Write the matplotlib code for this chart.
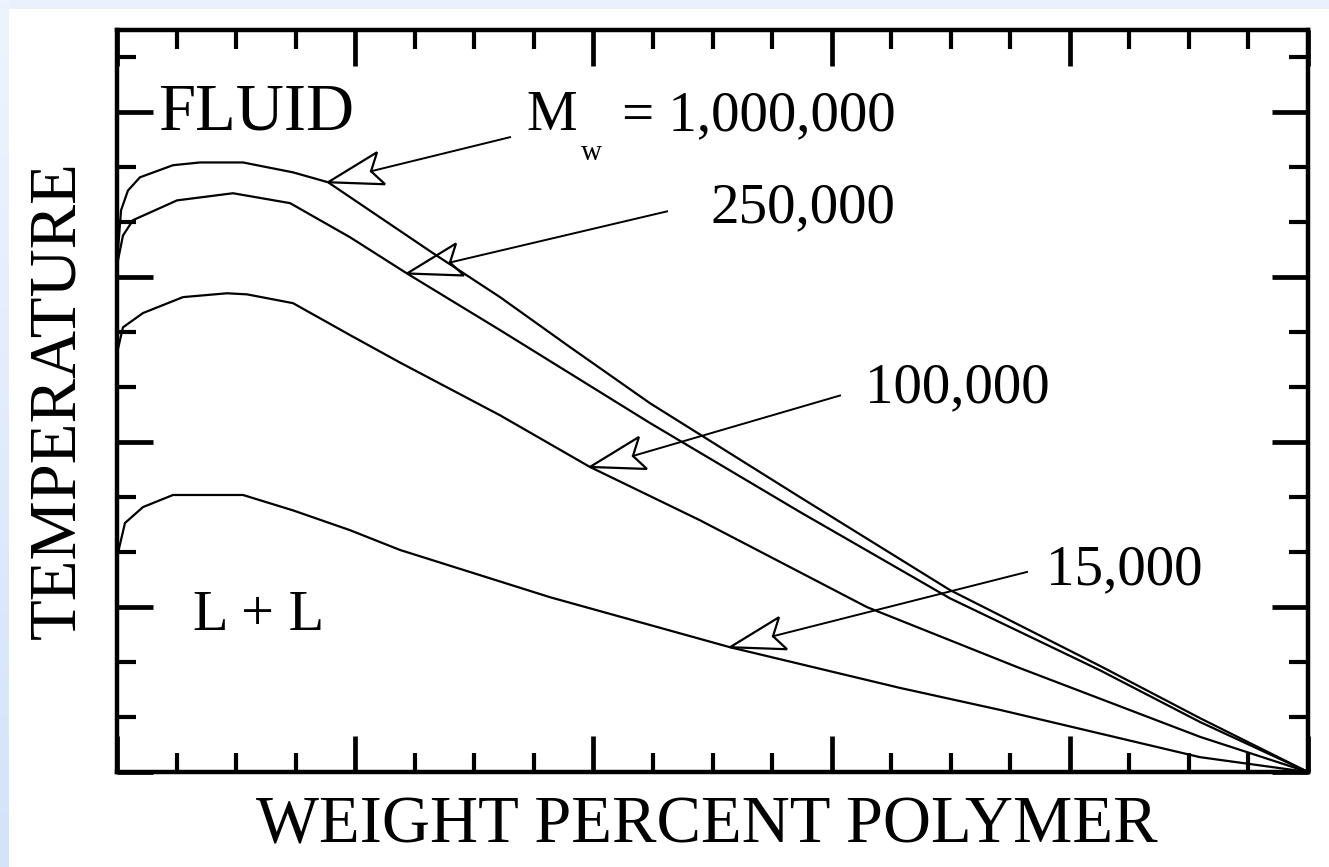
import numpy as np
import matplotlib
matplotlib.use("Agg")
import matplotlib.pyplot as plt
import matplotlib.transforms as mtransforms
from matplotlib.patches import Polygon, Rectangle
from matplotlib.ticker import MultipleLocator
from matplotlib.colors import LinearSegmentedColormap

# ---------------- data ----------------
x_1000k = [0, 0.08, 0.34, 0.92, 1.93, 4.70, 6.97, 10.58, 14.78, 17.72, 26.53, 32.16,
           38.04, 44.75, 57.35, 69.94, 82.54, 90.93, 100]
y_1000k = [9.27, 9.49, 10.22, 10.58, 10.82, 11.04, 11.09, 11.09, 10.91, 10.73, 9.44, 8.64,
           7.73, 6.71, 5.00, 3.31, 1.93, 0.98, 0]

x_250k = [0, 0.5, 1.34, 5.04, 9.74, 14.53, 19.56, 24.35, 32.16, 44.75, 57.35, 69.94,
          82.54, 90.93, 100]
y_250k = [9.22, 9.76, 10.04, 10.40, 10.53, 10.35, 9.73, 9.07, 8.04, 6.35, 4.73, 3.16,
          1.85, 0.91, 0]

x_100k = [0, 0.5, 2.18, 5.54, 9.24, 10.92, 14.78, 19.56, 23.76, 32.16, 39.71, 48.95,
          62.97, 75.57, 90.93, 100]
y_100k = [7.62, 8.09, 8.35, 8.64, 8.71, 8.69, 8.53, 7.95, 7.45, 6.49, 5.55, 4.58,
          3.00, 1.91, 0.64, 0]

x_15k = [0, 0.67, 2.18, 4.70, 10.58, 14.78, 19.56, 23.76, 36.36, 51.47, 65.74, 74.14,
         90.93, 100]
y_15k = [3.91, 4.53, 4.82, 5.04, 5.04, 4.76, 4.40, 4.04, 3.18, 2.27, 1.53, 1.13,
         0.27, 0]

labels = ["1,000,000", "250,000", "100,000", "15,000"]
arrow_tip_x = [17.72, 24.35, 39.71, 51.47]
arrow_tail = [(33.0, 11.55), (46.18, 10.2), (60.71, 6.85), (76.41, 3.64)]

x_label = "WEIGHT PERCENT POLYMER"
y_label = "TEMPERATURE"

# ---------------- figure ----------------
W, H = 1329, 867
DPI = 100
fig = plt.figure(figsize=(W / DPI, H / DPI), dpi=DPI)
fig.patch.set_facecolor("#e9f1fd")

def fx(px):
    return px / W

def fy(py):
    return 1 - py / H

# left gradient strip
gax = fig.add_axes([0, 0, 9 / W, 1])
grad = np.linspace(0, 1, 256).reshape(-1, 1)
cm = LinearSegmentedColormap.from_list("bl", ["#eef4fe", "#d3e3fb"])
gax.imshow(grad, aspect="auto", cmap=cm, extent=[0, 1, 0, 1], origin="upper")
gax.set_axis_off()

# white panel
fig.patches.append(Rectangle((fx(9), 0), 1 - fx(9), fy(9), transform=fig.transFigure,
                             facecolor="white", edgecolor="none", zorder=-10))

ax = fig.add_axes([fx(117), fy(772), fx(1308) - fx(117), fy(30) - fy(772)])
ax.set_zorder(2)
ax.set_xlim(0, 100)
ax.set_ylim(0, 13.5)
ax.set_facecolor("white")

lw = 1.6
curves = [(x_1000k, y_1000k), (x_250k, y_250k), (x_100k, y_100k), (x_15k, y_15k)]
for xs, ys in curves:
    ax.plot(xs, ys, color="black", lw=lw, solid_joinstyle="round")

for s in ax.spines.values():
    s.set_linewidth(3.2)

ax.xaxis.set_major_locator(MultipleLocator(20))
ax.xaxis.set_minor_locator(MultipleLocator(5))
ax.yaxis.set_major_locator(MultipleLocator(3))
ax.yaxis.set_minor_locator(MultipleLocator(1))
ax.tick_params(which="both", direction="in", top=True, right=True,
               labelbottom=False, labelleft=False)
ax.tick_params(which="major", length=26, width=3.4)
ax.tick_params(which="minor", length=14, width=3.0)

# ---------------- arrows ----------------
head_px = np.array([[0, 0], [49, -30], [43, -11], [57, 2]], dtype=float)  # x right, y down
head_in = np.column_stack([head_px[:, 0], -head_px[:, 1]]) / DPI

for (cx, cy), tx, tail in zip(curves, arrow_tip_x, arrow_tail):
    ty = float(np.interp(tx, cx, cy))
    trans = fig.dpi_scale_trans + mtransforms.ScaledTranslation(tx, ty, ax.transData)
    ax.add_patch(Polygon(head_in, closed=True, fill=False, edgecolor="black",
                         lw=1.6, transform=trans, joinstyle="miter", clip_on=False))
    notch_disp = ax.transData.transform((tx, ty)) + np.array([head_px[2, 0], -head_px[2, 1]])
    notch = ax.transData.inverted().transform(notch_disp)
    ax.plot([notch[0], tail[0]], [notch[1], tail[1]], color="black", lw=1.4, clip_on=False)

# ---------------- texts ----------------
serif = ["Liberation Serif", "DejaVu Serif"]
fig.text(fx(158), fy(130), "FLUID", fontsize=48, family=serif, ha="left", va="baseline", zorder=5)
fig.text(fx(193), fy(630), "L + L", fontsize=42, family=serif, ha="left", va="baseline", zorder=5)
fig.text(fx(526), fy(130), "M", fontsize=41, family=serif, ha="left", va="baseline", zorder=5)
fig.text(fx(581), fy(160), "w", fontsize=21, family=serif, ha="left", va="baseline", zorder=5)
fig.text(fx(622), fy(130), "= 1,000,000", fontsize=41, family=serif, ha="left", va="baseline", zorder=5)
fig.text(fx(710), fy(222), labels[1], fontsize=41, family=serif, ha="left", va="baseline", zorder=5)
fig.text(fx(865), fy(402), labels[2], fontsize=41, family=serif, ha="left", va="baseline", zorder=5)
fig.text(fx(1046), fy(584), labels[3], fontsize=41, family=serif, ha="left", va="baseline", zorder=5)

fig.text(fx(707), fy(843), x_label, fontsize=48, family=serif, ha="center", va="baseline", zorder=5)
fig.text(fx(58), fy(400), y_label, fontsize=48, family=serif, ha="center", va="center",
         rotation=90, zorder=5)

fig.savefig("out.png", dpi=DPI, facecolor=fig.get_facecolor())
